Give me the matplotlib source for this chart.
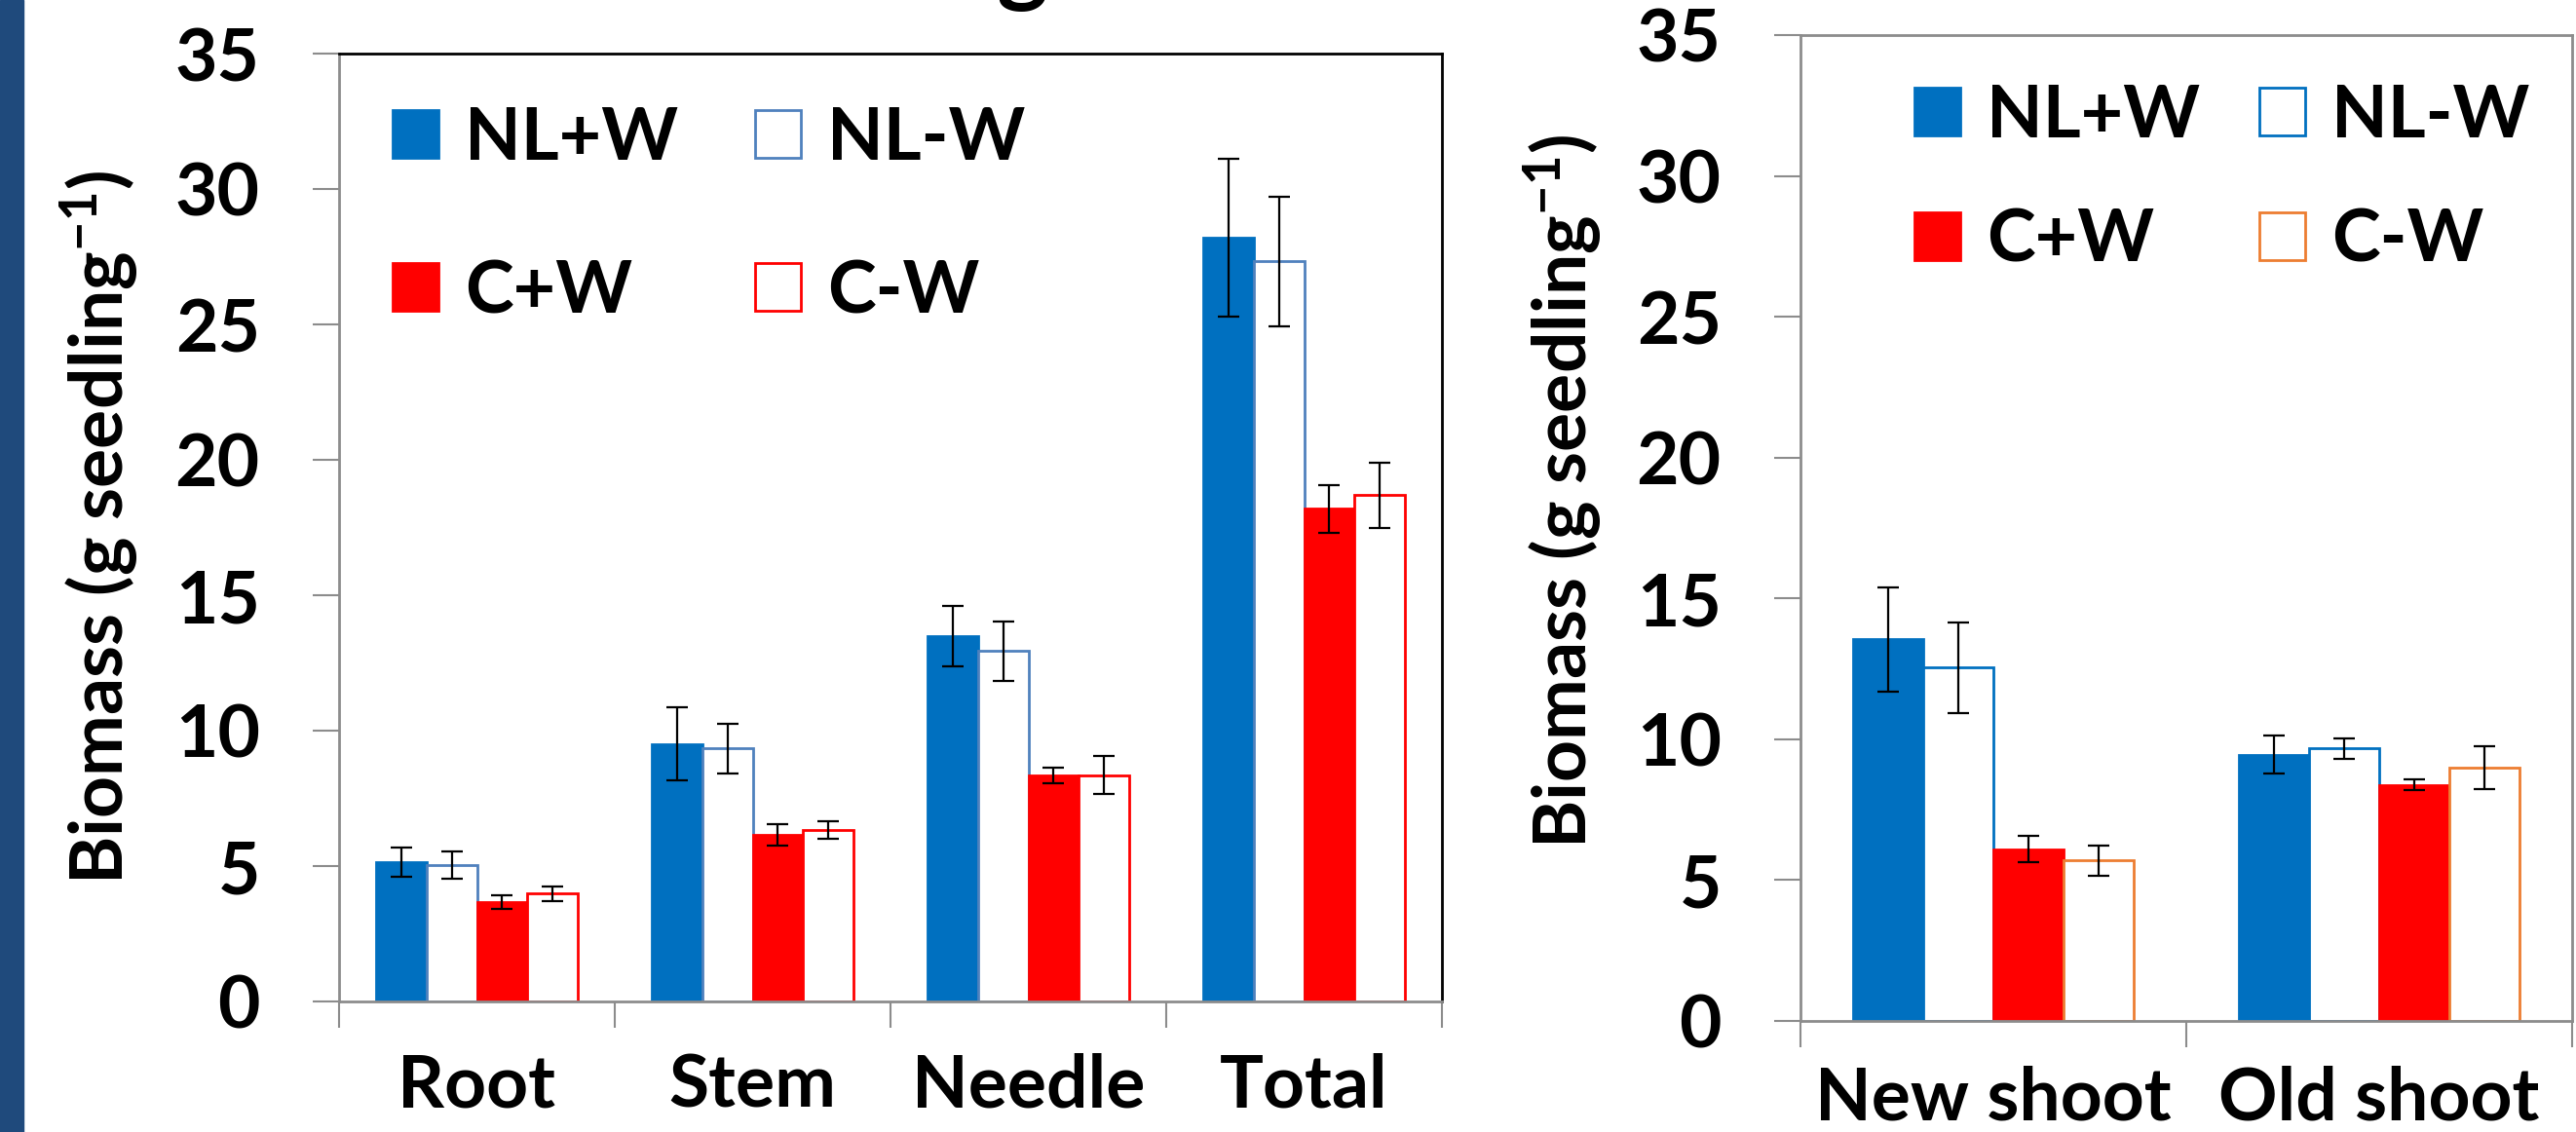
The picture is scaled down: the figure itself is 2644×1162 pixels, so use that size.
import matplotlib
matplotlib.use("Agg")
import matplotlib.pyplot as plt
import numpy as np
from matplotlib.patches import Rectangle

plt.rcParams["font.family"] = ["Lato", "DejaVu Sans"]
plt.rcParams["font.weight"] = "bold"
plt.rcParams["mathtext.fontset"] = "custom"
plt.rcParams["mathtext.rm"] = "Lato:bold"
plt.rcParams["mathtext.it"] = "Lato:bold"
plt.rcParams["mathtext.bf"] = "Lato:bold"

# data
treatments = ["NL+W", "NL-W", "C+W", "C-W"]

organs = ["Root", "Stem", "Needle", "Total"]
organ_mean = {
    "NL+W": [5.14, 9.51, 13.49, 28.2],
    "NL-W": [5.05, 9.34, 12.94, 27.33],
    "C+W": [3.67, 6.15, 8.34, 18.19],
    "C-W": [3.98, 6.34, 8.36, 18.69],
}
organ_err = {
    "NL+W": [0.55, 1.35, 1.12, 2.9],
    "NL-W": [0.50, 0.92, 1.09, 2.4],
    "C+W": [0.26, 0.39, 0.29, 0.87],
    "C-W": [0.26, 0.33, 0.70, 1.22],
}

shoots = ["New shoot", "Old shoot"]
shoot_mean = {
    "NL+W": [13.55, 9.45],
    "NL-W": [12.54, 9.68],
    "C+W": [6.10, 8.37],
    "C-W": [5.69, 8.99],
}
shoot_err = {
    "NL+W": [1.85, 0.67],
    "NL-W": [1.60, 0.36],
    "C+W": [0.46, 0.19],
    "C-W": [0.53, 0.75],
}

BLUE = "#0070C0"
RED = "#FF0000"
GRAY = "#8C8C8C"
FS = 54

left_style = {
    "NL+W": dict(color=BLUE, edgecolor=BLUE),
    "NL-W": dict(color="white", edgecolor="#4F81BD"),
    "C+W": dict(color=RED, edgecolor=RED),
    "C-W": dict(color="white", edgecolor=RED),
}
right_style = {
    "NL+W": dict(color=BLUE, edgecolor=BLUE),
    "NL-W": dict(color="white", edgecolor=BLUE),
    "C+W": dict(color=RED, edgecolor=RED),
    "C-W": dict(color="white", edgecolor="#ED7D31"),
}


def draw_panel(ax, cats, means, errs, styles, leg_anchor, leg_spacing, col_spacing, xpad):
    n = len(cats)
    w = 0.182
    centers = np.arange(n) + 0.5
    handles = {}
    for i, t in enumerate(treatments):
        x = centers + (i - 1.5) * w
        b = ax.bar(x, means[t], width=w, linewidth=2, zorder=2, **styles[t])
        ax.errorbar(x, means[t], yerr=errs[t], fmt="none", ecolor="black",
                    elinewidth=1.6, capsize=8, capthick=1.6, zorder=3)
        handles[t] = b
    ax.set_xlim(0, n)
    ax.set_ylim(0, 35)
    ax.set_yticks(np.arange(0, 36, 5))
    ax.set_xticks(np.arange(n + 1))
    ax.set_xticklabels([])
    ax.set_xticks(centers, minor=True)
    ax.set_xticklabels(cats, minor=True, fontsize=FS, fontweight="bold")
    ax.tick_params(axis="x", which="major", length=19.5, width=1.5, color=GRAY, direction="out")
    ax.tick_params(axis="x", which="minor", length=0, pad=xpad)
    ax.tick_params(axis="y", length=19.5, width=1.5, color=GRAY, direction="out",
                   labelsize=FS, pad=39)
    for lab in ax.get_yticklabels():
        lab.set_fontweight("bold")
    ax.set_ylabel("Biomass (g seedling$^{-1}$)", fontsize=FS, fontweight="bold")
    order = ["NL+W", "C+W", "NL-W", "C-W"]
    ax.legend([handles[t] for t in order], order, ncol=2, loc="upper left",
              bbox_to_anchor=leg_anchor, frameon=False,
              prop={"weight": "bold", "size": FS},
              handlelength=0.63, handleheight=0.63, handletextpad=0.36,
              borderpad=0, borderaxespad=0, labelspacing=leg_spacing,
              columnspacing=col_spacing)


fig = plt.figure(figsize=(26.44, 11.62), dpi=100)

# slide remnants: dark blue side strip and clipped title
fig.patches.append(Rectangle((0, 0), 24 / 2644, 1, transform=fig.transFigure,
                             color="#1F4A7C", zorder=0))
fig.text(1120 / 2644, 1 + 6 / 1162, "Biomass of seedlings", ha="right", va="baseline",
         fontsize=72, fontweight="bold")

ax1 = fig.add_axes([348 / 2644, 1 - 1028 / 1162, 1132 / 2644, 973 / 1162])
draw_panel(ax1, organs, organ_mean, organ_err, left_style, (0.0486, 0.946), 1.18, 1.05, 38)
for s in ["left", "bottom"]:
    ax1.spines[s].set_color(GRAY)
    ax1.spines[s].set_linewidth(2)
for s in ["top", "right"]:
    ax1.spines[s].set_color("black")
    ax1.spines[s].set_linewidth(2)
ax1.yaxis.set_label_coords(-0.179, 0.5)

ax2 = fig.add_axes([1848 / 2644, 1 - 1048 / 1162, 792 / 2644, 1012 / 1162])
draw_panel(ax2, shoots, shoot_mean, shoot_err, right_style, (0.148, 0.952), 0.79, 0.8, 33)
for s in ax2.spines.values():
    s.set_color(GRAY)
    s.set_linewidth(2)
ax2.yaxis.set_label_coords(-0.254, 0.537)

fig.savefig("out.png", dpi=100)
